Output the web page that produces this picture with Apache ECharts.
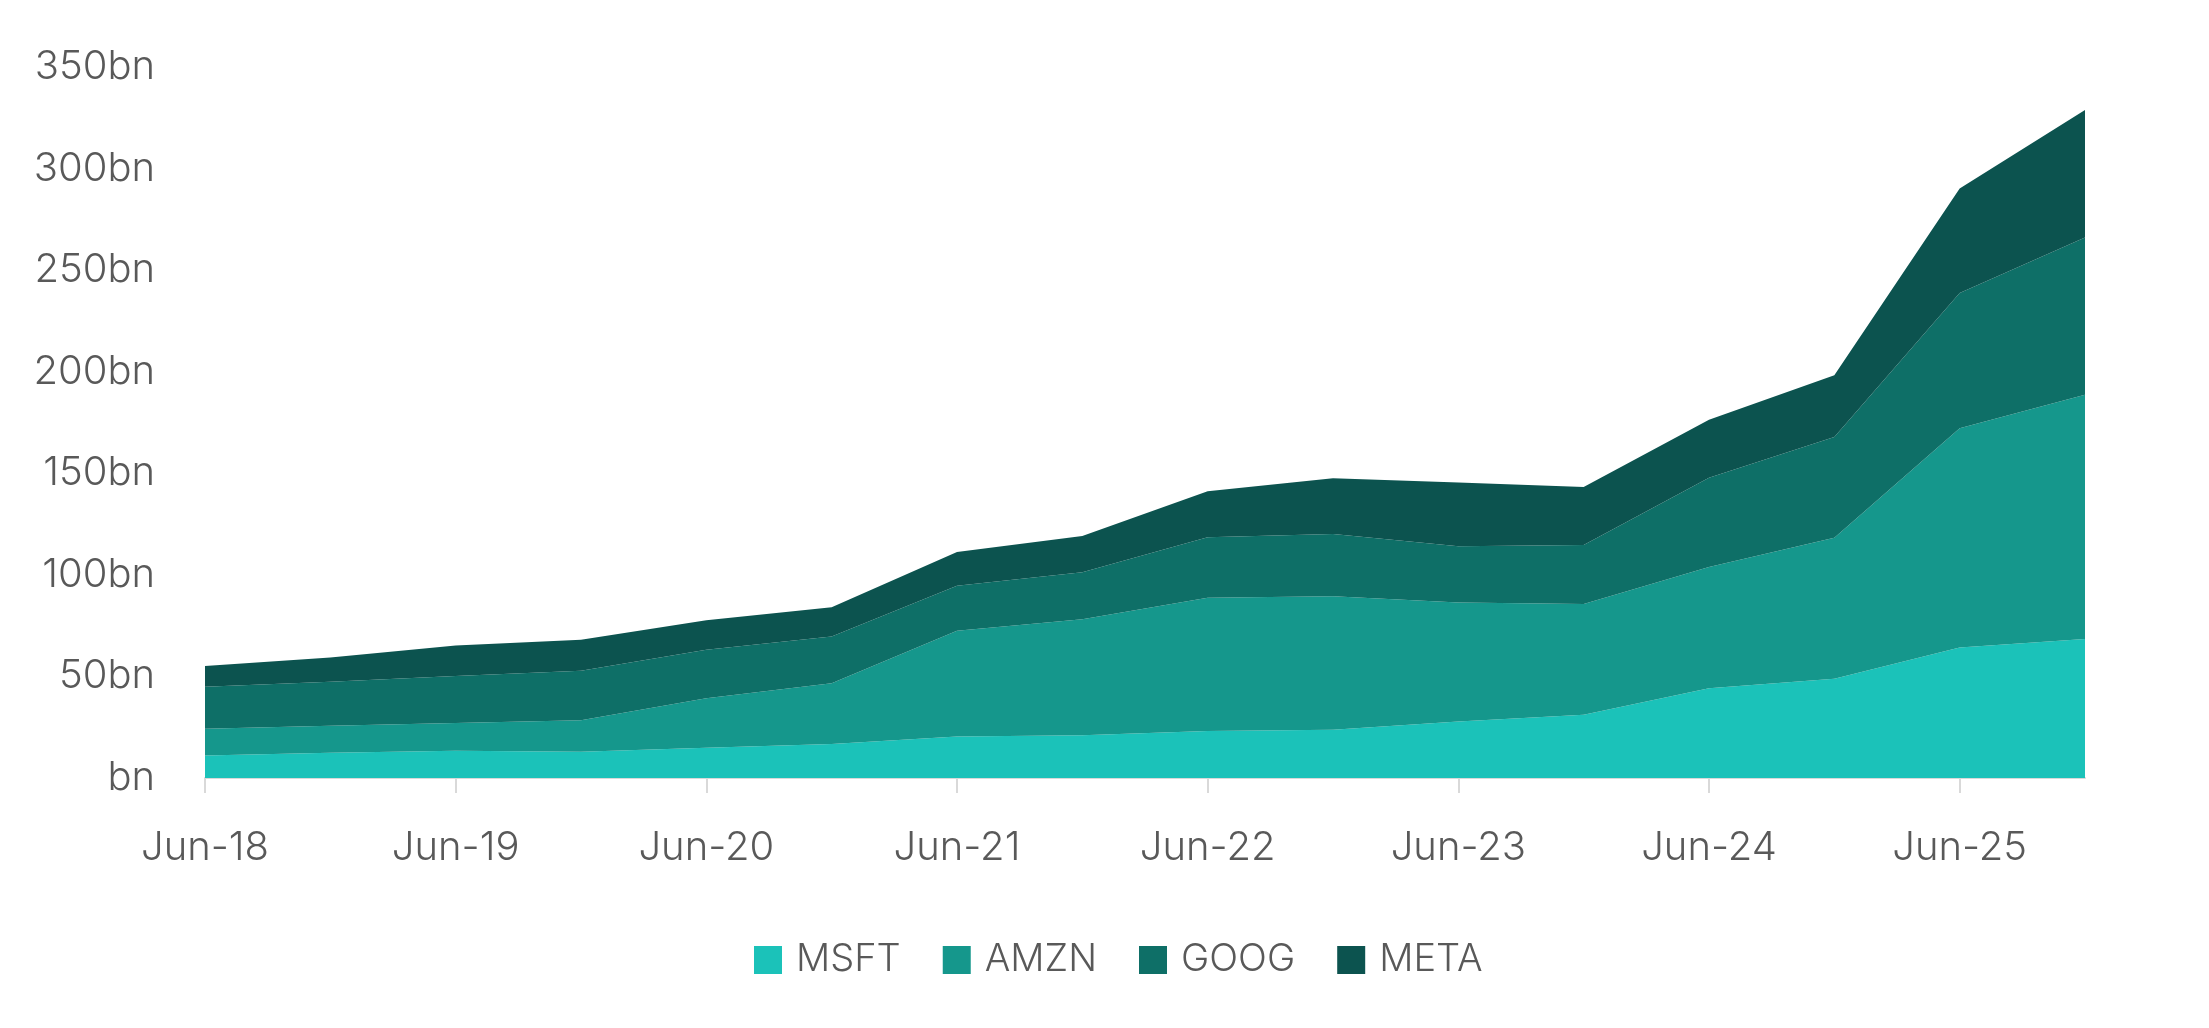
<!DOCTYPE html>
<html>
<head>
<meta charset="utf-8">
<script src="https://cdn.jsdelivr.net/npm/echarts@6/dist/echarts.min.js"></script>
<style>html,body{margin:0;padding:0;background:#fff;}#c{width:2209px;height:1028px;}</style>
</head>
<body>
<div id="c"></div>
<script>
const categories = ['Jun-18','Dec-18','Jun-19','Dec-19','Jun-20','Dec-20','Jun-21','Dec-21','Jun-22','Dec-22','Jun-23','Dec-23','Jun-24','Dec-24','Jun-25','Dec-25'];
const msft = [11.1, 12.4, 13.4, 12.9, 14.9, 16.7, 20.4, 21.1, 23.1, 23.7, 27.8, 31.1, 44.2, 48.8, 64.3, 68.4];
const amzn = [13.1, 13.3, 13.7, 15.5, 24.3, 30.0, 52.1, 57.0, 65.6, 65.8, 58.6, 54.5, 59.7, 69.5, 107.9, 120.3];
const goog = [20.7, 21.7, 23.1, 24.4, 23.9, 22.9, 22.1, 23.2, 29.8, 30.6, 27.7, 29.1, 43.9, 49.6, 66.6, 77.4];
const meta = [10.2, 11.9, 15.0, 15.3, 14.5, 14.4, 16.7, 17.8, 22.6, 27.5, 31.4, 28.5, 28.5, 30.3, 51.4, 62.7];
const seriesNames = ['MSFT','AMZN','GOOG','META'];
const colors = ['#1bc2b9','#15978c','#0e6f67','#0c534f'];

const font = 'Inter';
const chart = echarts.init(document.getElementById('c'));
const dataSets = [msft, amzn, goog, meta];
chart.setOption({
  animation: false,
  color: colors,
  grid: {left: 205, right: 124, top: 67, bottom: 250, containLabel: false},
  legend: {
    data: seriesNames,
    top: 936,
    left: 749,
    icon: 'rect',
    itemWidth: 28,
    itemHeight: 28,
    itemGap: 42,
    textStyle: {color: '#595959', fontSize: 38, fontFamily: font, fontWeight: 300, padding: [0,0,0,9]}
  },
  xAxis: {
    type: 'category',
    data: categories,
    boundaryGap: false,
    axisLine: {lineStyle: {color: '#d9d9d9', width: 2}},
    axisTick: {show: true, interval: 1, length: 15, lineStyle: {color: '#d9d9d9', width: 2}},
    axisLabel: {interval: 1, color: '#595959', fontSize: 40, fontFamily: font, fontWeight: 300, margin: 50},
    splitLine: {show: false}
  },
  yAxis: {
    type: 'value',
    min: 0, max: 350, interval: 50,
    axisLine: {show: false},
    axisTick: {show: false},
    splitLine: {show: false},
    axisLabel: {color: '#595959', fontSize: 40, fontFamily: font, fontWeight: 300, margin: 50,
      formatter: v => v === 0 ? 'bn' : v + 'bn'}
  },
  series: seriesNames.map((n, i) => ({
    name: n,
    type: 'line',
    stack: 'total',
    data: dataSets[i],
    showSymbol: false,
    symbol: 'none',
    lineStyle: {width: 0},
    itemStyle: {color: colors[i]},
    areaStyle: {color: colors[i], opacity: 1}
  }))
});
</script>
</body>
</html>
